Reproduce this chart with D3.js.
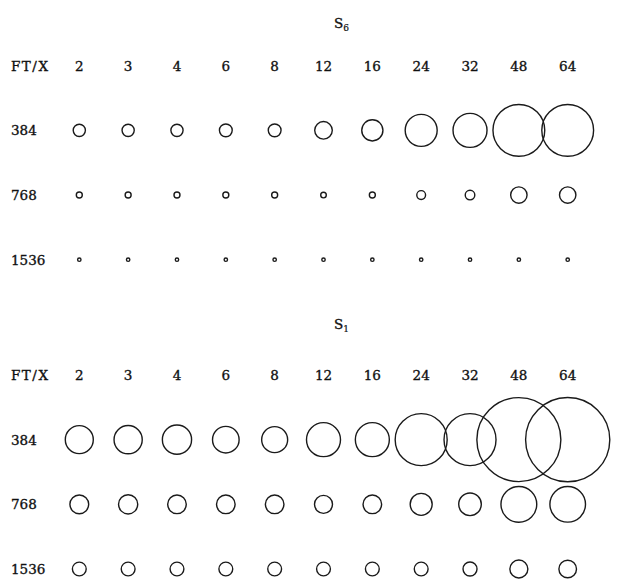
<!DOCTYPE html>
<html>
<head>
<meta charset="utf-8">
<script src="https://cdn.jsdelivr.net/npm/d3@7"></script>
<style>
  body { margin: 0; background: #fff; }
  text { font-family: "DejaVu Serif", serif; font-size: 13.5px; fill: #111; stroke: #111; stroke-width: 0.35px; }
</style>
</head>
<body>
<div id="chart"></div>
<script>
// column headers (X) and row headers (FT)
const xLabels = ["2", "3", "4", "6", "8", "12", "16", "24", "32", "48", "64"]
const ftLabels = ["384", "768", "1536"]
const panelNames = ["6", "1"]   // S subscripts

// circle magnitudes, S6 panel
const s6_384  = [12.2, 12.2, 12.2, 12.8, 12.8, 17.6, 21.2, 32.0, 34.0, 51.8, 51.8]
const s6_768  = [6.0, 6.0, 6.0, 6.0, 6.0, 5.6, 6.0, 8.8, 9.6, 16.4, 16.4]
const s6_1536 = [3.4, 3.4, 3.4, 3.4, 3.4, 3.4, 3.4, 3.4, 3.4, 3.4, 3.4]

// circle magnitudes, S1 panel
const s1_384  = [28.0, 28.2, 29.2, 26.6, 26.0, 34.0, 34.0, 52.0, 52.0, 84.0, 84.2]
const s1_768  = [18.8, 19.2, 18.6, 18.6, 18.6, 18.0, 18.6, 22.0, 22.6, 35.8, 35.6]
const s1_1536 = [13.8, 13.8, 13.8, 13.8, 13.8, 13.8, 13.8, 13.8, 14.0, 18.0, 17.6]

const panels = [
    { sub: panelNames[0], rows: [s6_384, s6_768, s6_1536] },
    { sub: panelNames[1], rows: [s1_384, s1_768, s1_1536] }
]

let width = 618, height = 585

let svg = d3.select("#chart").append("svg")
    .attr("width", width)
    .attr("height", height)

// x positions of columns
let x = d3.scalePoint()
    .domain(xLabels)
    .range([79.3, 567.7])

// rows within a panel: header then the FT rows
let y = d3.scalePoint()
    .domain(["FT/X"].concat(ftLabels))
    .range([0, 194])

// radius scale
let r = d3.scaleLinear()
    .domain([0, 100])
    .range([0, 50])

let panelTop = [65.7, 375]
let titleGap = [43, 51]

panels.forEach((p, pi) => {
    let g = svg.append("g")
        .attr("transform", "translate(0," + panelTop[pi] + ")")

    // title S with subscript
    let title = g.append("text")
        .attr("x", 334)
        .attr("y", -titleGap[pi] + 5)
    title.append("tspan").text("S")
    title.append("tspan")
        .attr("dy", 3)
        .style("font-size", "9px")
        .style("stroke-width", "0.2px")
        .text(p.sub)

    // header row
    g.append("text")
        .attr("x", 11).attr("y", y("FT/X") + 5)
        .attr("letter-spacing", 1.5)
        .text("FT/X")

    g.selectAll(".xlab")
        .data(xLabels)
        .enter().append("text")
        .attr("class", "xlab")
        .attr("x", d => x(d))
        .attr("y", y("FT/X") + 5)
        .attr("text-anchor", "middle")
        .text(d => d)

    // row labels
    g.selectAll(".ftlab")
        .data(ftLabels)
        .enter().append("text")
        .attr("class", "ftlab")
        .attr("x", 11)
        .attr("y", d => y(d) + 5)
        .text(d => d)

    // circles
    p.rows.forEach((vals, ri) => {
        g.selectAll(".c" + ri)
            .data(vals)
            .enter().append("circle")
            .attr("class", "c" + ri)
            .attr("cx", (d, i) => x(xLabels[i]))
            .attr("cy", y(ftLabels[ri]))
            .attr("r", d => r(d))
            .attr("fill", "none")
            .attr("stroke", "#1a1a1a")
            .attr("stroke-width", 1.4)
    })
})
</script>
</body>
</html>
